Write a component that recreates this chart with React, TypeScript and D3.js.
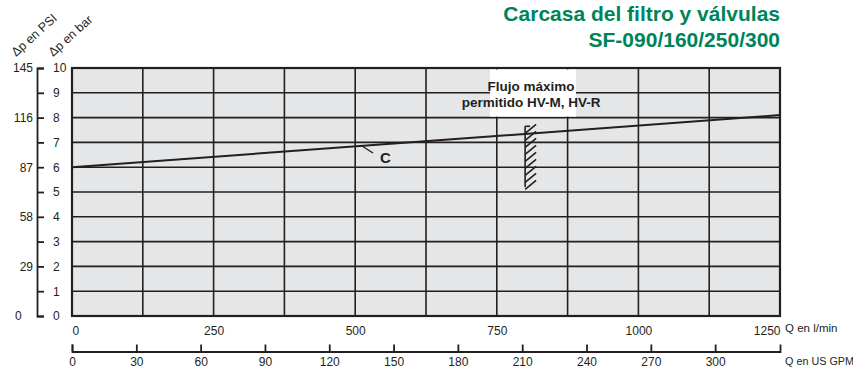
import React, { useRef, useEffect } from 'react';
import { select, scaleLinear, axisBottom, axisRight, axisLeft, line, range } from 'd3';

const lpmTicks = [0, 250, 500, 750, 1000, 1250];
const gpmTicks = [0, 30, 60, 90, 120, 150, 180, 210, 240, 270, 300];
const barTicks = [0, 1, 2, 3, 4, 5, 6, 7, 8, 9, 10];
const psiTicks = [0, 29, 58, 87, 116, 145];
const gridFlows = [0, 125, 250, 375, 500, 625, 750, 875, 1000, 1125, 1250];

// curve C: flow in l/min, pressure drop in bar
const curveFlow = [0, 1250];
const curveDp = [6.0, 8.1];

// max allowed flow for HV-M / HV-R (hatched mark)
const maxFlow = 800;
const maxFlowDp = [5.2, 7.65];

const GREEN = '#00835a';
const INK = '#231f20';
const FONT = '"Liberation Sans Narrow", "Liberation Sans", Arial, sans-serif';

export default function App() {
  const svgRef = useRef<SVGSVGElement>(null);

  useEffect(() => {
    const svg = select(svgRef.current);
    svg.selectAll('*').remove();

    const x = scaleLinear().domain([0, 1250]).range([72, 780]);
    const xg = scaleLinear().domain([0, 1250 / 3.785]).range([72, 780]);
    const y = scaleLinear().domain([0, 10]).range([316, 68]);
    const yPsi = scaleLinear().domain([0, 145]).range([316, 68]);

    // plot background
    svg
      .append('rect')
      .attr('x', x(0))
      .attr('y', y(10))
      .attr('width', x(1250) - x(0))
      .attr('height', y(0) - y(10))
      .attr('fill', '#e5e6e7');

    // grid
    svg
      .append('g')
      .selectAll('line')
      .data(barTicks)
      .join('line')
      .attr('x1', x(0))
      .attr('x2', x(1250))
      .attr('y1', (d) => y(d))
      .attr('y2', (d) => y(d))
      .attr('stroke', INK)
      .attr('stroke-width', 1.6);
    svg
      .append('g')
      .selectAll('line')
      .data(gridFlows)
      .join('line')
      .attr('x1', (d) => x(d))
      .attr('x2', (d) => x(d))
      .attr('y1', y(10))
      .attr('y2', y(0))
      .attr('stroke', INK)
      .attr('stroke-width', 1.6);

    // border
    svg
      .append('rect')
      .attr('x', x(0))
      .attr('y', y(10))
      .attr('width', x(1250) - x(0))
      .attr('height', y(0) - y(10))
      .attr('fill', 'none')
      .attr('stroke', INK)
      .attr('stroke-width', 2.2);

    // label box for max flow
    svg
      .append('rect')
      .attr('x', 490)
      .attr('y', y(10) + 1.5)
      .attr('width', 86)
      .attr('height', y(8) - y(10) - 2.5)
      .attr('fill', '#ffffff');
    const lbl = svg
      .append('text')
      .attr('text-anchor', 'middle')
      .attr('font-family', FONT)
      .attr('font-weight', 'bold')
      .attr('font-size', 13.5)
      .attr('fill', INK);
    lbl.append('tspan').attr('x', x(maxFlow) + 6).attr('y', 91).text('Flujo máximo');
    lbl.append('tspan').attr('x', x(maxFlow) + 6).attr('y', 107).text('permitido HV-M, HV-R');

    // curve C
    const pts = curveFlow.map((f, i) => [f, curveDp[i]] as [number, number]);
    svg
      .append('path')
      .attr(
        'd',
        line<[number, number]>()
          .x((d) => x(d[0]))
          .y((d) => y(d[1]))(pts)
      )
      .attr('fill', 'none')
      .attr('stroke', INK)
      .attr('stroke-width', 2);
    svg
      .append('line')
      .attr('x1', 362)
      .attr('y1', 146)
      .attr('x2', 373)
      .attr('y2', 153)
      .attr('stroke', INK)
      .attr('stroke-width', 1.4);
    svg
      .append('text')
      .attr('x', 380)
      .attr('y', 163)
      .attr('font-family', FONT)
      .attr('font-weight', 'bold')
      .attr('font-size', 15)
      .attr('fill', INK)
      .text('C');

    // hatched max-flow mark
    const hx = x(maxFlow);
    const hTop = y(maxFlowDp[1]);
    const hBot = y(maxFlowDp[0]);
    const hatch = svg.append('g').attr('stroke', INK).attr('stroke-width', 1.6);
    hatch.append('line').attr('x1', hx).attr('x2', hx).attr('y1', hTop).attr('y2', hBot);
    hatch.append('line').attr('x1', hx).attr('x2', hx + 5).attr('y1', hTop).attr('y2', hTop);
    hatch
      .selectAll('line.h')
      .data(range(hTop + 7, hBot + 4, 7))
      .join('line')
      .attr('class', 'h')
      .attr('x1', hx)
      .attr('y1', (d) => d)
      .attr('x2', hx + 11)
      .attr('y2', (d) => d - 9);

    // bottom axis l/min (labels only)
    const gL = svg
      .append('g')
      .attr('transform', `translate(0,${y(0)})`)
      .call(axisBottom(x).tickValues(lpmTicks).tickFormat((d) => String(d)).tickSize(0).tickPadding(10));
    gL.select('.domain').remove();
    gL.selectAll('text')
      .attr('font-family', FONT)
      .attr('font-size', 12)
      .attr('fill', INK)
      .attr('text-anchor', (d: any) => (d === 0 ? 'start' : d === 1250 ? 'end' : 'middle'));
    svg
      .append('text')
      .attr('x', 785)
      .attr('y', 332)
      .attr('font-family', FONT)
      .attr('font-size', 11.5)
      .attr('fill', INK)
      .text('Q en l/min');

    // bottom axis US GPM
    const gG = svg
      .append('g')
      .attr('transform', 'translate(0,351.5)')
      .call(
        axisBottom(xg)
          .tickValues(gpmTicks)
          .tickFormat((d) => String(d))
          .tickSize(-7)
          .tickSizeOuter(-7)
          .tickPadding(6)
      );
    gG.selectAll('line, path').attr('stroke', INK).attr('stroke-width', 1.8);
    gG.selectAll('text').attr('font-family', FONT).attr('font-size', 12).attr('fill', INK);
    svg
      .append('text')
      .attr('x', 785)
      .attr('y', 365)
      .attr('font-family', FONT)
      .attr('font-size', 10.8)
      .attr('fill', INK)
      .text('Q en US GPM');

    // left axis bar
    const gB = svg
      .append('g')
      .attr('transform', 'translate(37,0)')
      .call(axisRight(y).tickValues(barTicks).tickSize(7).tickSizeOuter(7).tickPadding(9));
    gB.selectAll('line, path').attr('stroke', INK).attr('stroke-width', 1.8);
    gB.selectAll('text').attr('font-family', FONT).attr('font-size', 12).attr('fill', INK);

    // left axis PSI (labels only)
    const gP = svg
      .append('g')
      .attr('transform', 'translate(37,0)')
      .call(axisLeft(yPsi).tickValues(psiTicks).tickSize(0).tickPadding(4));
    gP.select('.domain').remove();
    gP.selectAll('text')
      .attr('font-family', FONT)
      .attr('font-size', 12)
      .attr('fill', INK)
      .attr('text-anchor', (d: any) => (d === 0 ? 'start' : 'end'))
      .attr('x', (d: any) => (d === 0 ? -22 : -4));

    // rotated axis titles
    svg
      .append('text')
      .attr('transform', 'translate(16,57) rotate(-42)')
      .attr('font-family', FONT)
      .attr('font-size', 12.5)
      .attr('fill', INK)
      .text('Δp en PSI');
    svg
      .append('text')
      .attr('transform', 'translate(53,57) rotate(-42)')
      .attr('font-family', FONT)
      .attr('font-size', 12.5)
      .attr('fill', INK)
      .text('Δp en bar');

    // title
    const t = svg
      .append('text')
      .attr('text-anchor', 'end')
      .attr('font-family', FONT)
      .attr('font-weight', 'bold')
      .attr('font-size', 21)
      .attr('fill', GREEN);
    t.append('tspan').attr('x', 780).attr('y', 21).text('Carcasa del filtro y válvulas');
    t.append('tspan').attr('x', 780).attr('y', 47).text('SF-090/160/250/300');
  }, []);

  return (
    <svg
      ref={svgRef}
      width={853}
      height={370}
      style={{ position: 'absolute', left: 0, top: 0, background: '#ffffff' }}
    />
  );
}
